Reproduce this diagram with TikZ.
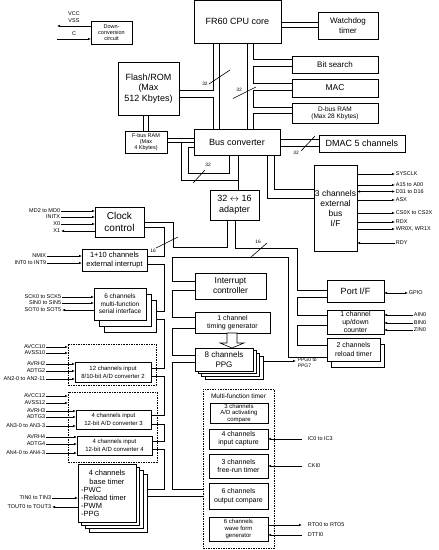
\documentclass[tikz,border=0pt]{standalone}
\usepackage{fontspec}
\setmainfont{Liberation Sans}
\usetikzlibrary{arrows.meta}
\newcommand\fs[2]{\fontsize{#1}{#2}\selectfont}
\newcommand\bx[7][]{\node[box,minimum width={(#5)-(#3)},minimum height={(#6)-(#4)},#1] (#2) at ({((#3)+(#5))/2},{((#4)+(#6))/2}) {#7};}
\tikzset{
  ln/.style={line width=0.6pt},
  box/.style={draw, line width=0.65pt, fill=white, align=center, inner sep=0pt, outer sep=0pt},
  bl/.style={draw, line width=0.65pt, fill=white},
  dbx/.style={dash pattern=on 1.5pt off 1pt, fill=none},
  sig/.style={font=\fs{5.5}{6}, inner sep=0.6pt},
  tiny/.style={font=\fs{4.8}{5}, inner sep=0pt},
  ar/.style={-{Latex[length=3pt,width=2.4pt]}},
  al/.style={{Latex[length=3pt,width=2.4pt]}-},
  ab/.style={{Latex[length=3pt,width=2.4pt]}-{Latex[length=3pt,width=2.4pt]}},
}
\begin{document}
\begin{tikzpicture}[x=1pt,y=-1pt]
\useasboundingbox[fill=white] (0,0) rectangle (439,550);
% ---------- boxes ----------
\bx[font=\fs{5.5}{6.3}]{down}{91}{21}{132}{44}{Down-\\conversion\\circuit}
\bx[font=\fs{9}{10}]{cpu}{194}{0.5}{281}{43}{FR60 CPU core}
\bx[font=\fs{8}{9.5}]{wdt}{318}{12}{378}{39}{Watchdog\\timer}
\bx[font=\fs{8}{9}]{bits}{292}{56}{378}{73}{Bit search}
\bx[font=\fs{8.5}{9}]{mac}{292}{79}{378}{97}{MAC}
\bx[font=\fs{6.5}{7}]{dram}{292}{103}{378}{123}{D-bus RAM\\(Max 28 Kbytes)}
\bx[font=\fs{9}{10.5}]{flash}{118}{62}{179}{115}{Flash/ROM\\(Max\\512 Kbytes)}
\bx[font=\fs{5.5}{6}]{fram}{125}{131}{167}{153}{F-bus RAM\\(Max\\4 Kbytes)}
\bx[font=\fs{9}{10}]{busc}{194}{129}{280}{155}{Bus converter}
\bx[font=\fs{9}{10}]{dmac}{319}{135}{405}{152}{DMAC 5 channels}
\bx[font=\fs{9}{10.5}]{adapt}{210}{190}{259}{220}{32 $\leftrightarrow$ 16\\adapter}
\bx[font=\fs{8.5}{10}]{ebus}{314}{165}{357}{251}{3 channels\\external\\bus\\I/F}
\bx[font=\fs{10}{11.5}]{clock}{95}{207}{144}{237}{Clock\\control}
\bx[font=\fs{7.5}{8.5}]{extint}{82}{249}{147}{271}{1+10 channels\\external interrupt}
\foreach \k in {2,1} \draw[bl] ({94+5*\k},{288+6*\k}) rectangle ({146+5*\k},{320+6*\k});
\bx[font=\fs{6.5}{7.5}]{sio}{94}{288}{146}{320}{6 channels\\multi-function\\serial interface}
\bx[dbx]{adg1}{68}{344}{156}{385}{}
\bx[font=\fs{6}{8}]{adc2}{75}{362}{151}{382}{12 channels input\\8/10-bit A/D converter 2}
\bx[dbx]{adg2}{68}{392}{157}{462}{}
\bx[font=\fs{6}{8}]{adc3}{76}{410}{151}{429}{4 channels input\\12-bit A/D converter 3}
\bx[font=\fs{6}{8}]{adc4}{77}{436}{152}{455}{4 channels input\\12-bit A/D converter 4}
\foreach \k in {3,2,1} \draw[bl] ({78+3.7*\k},{464+3.4*\k}) rectangle ({136+3.7*\k},{522+3.4*\k});
\bx{btim}{78}{464}{136}{522}{}
\node[font=\fs{7.5}{8.5}, align=center, anchor=north] at (107,467) {4 channels\\base timer};
\node[font=\fs{7.5}{8}, align=left, anchor=north west, inner sep=0pt] at (81,487) {-PWC\\-Reload timer\\-PWM\\-PPG};
\bx[font=\fs{8.5}{10}]{intc}{195}{273}{266}{299}{Interrupt\\controller}
\bx[font=\fs{7}{8.5}]{tgen}{195}{312}{270}{333}{1 channel\\timing generator}
\foreach \k in {3,2,1} \draw[bl] ({195+3.3*\k},{348+2.8*\k}) rectangle ({253+3.3*\k},{371+2.8*\k});
\bx[font=\fs{8}{9.5}]{ppg}{195}{348}{253}{371}{8 channels\\PPG}
\draw[ln, fill=white] (227,333) -- (237,333) -- (237,343) -- (244,343) -- (232,348) -- (220,343) -- (227,343) -- cycle;
\bx[dbx]{mft}{203}{389}{274}{548}{}
\node[font=\fs{6.5}{7}, anchor=north] at (238.5,390.5) {Multi-function timer};
\bx[font=\fs{6}{6.5}]{adact}{210}{403}{268}{423}{3 channels\\A/D activating\\compare}
\bx[font=\fs{7}{8}]{icap}{209}{429}{268}{449}{4 channels\\input capture}
\bx[font=\fs{7}{8.5}]{frt}{209}{454}{268}{478}{3 channels\\free-run timer}
\bx[font=\fs{7}{9}]{ocu}{209}{483}{268}{509}{6 channels\\output compare}
\bx[font=\fs{6}{6.8}]{wfg}{209}{517}{268}{541}{6 channels\\wave form\\generator}
\bx[font=\fs{9}{10}]{port}{327}{280}{384}{302}{Port I/F}
\bx[font=\fs{7}{8}]{udc}{327}{310}{384}{334}{1 channel\\up/down\\counter}
\draw[bl] (331,344) rectangle (384,367);
\bx[font=\fs{7}{8.5}]{rtim}{327}{338}{380}{361}{2 channels\\reload timer}
% ---------- top signals ----------
\node[sig] at (74,14) {VCC};
\node[sig] at (74,21) {VSS};
\draw[ln,al] (57,26) -- (down.west |- 0,26);
\node[sig] at (74,34) {C};
\draw[ln,ar] (57,39) -- (down.west |- 0,39);
\draw[ln] (cpu.east |- 0,22) -- (wdt.west |- 0,22);
\draw[ln] (cpu.east |- 0,27) -- (wdt.west |- 0,27);
% CPU buses
\draw[ln] (213,0 |- cpu.south) |- (flash.east |- 0,90);
\draw[ln] (flash.east |- 0,97) -| (213,0 |- busc.north);
\draw[ln] (219,0 |- cpu.south) -- (219,0 |- busc.north);
\draw[ln] (247,0 |- cpu.south) -- (247,0 |- busc.north);
\draw[ln] (253,0 |- cpu.south) |- (bits.west |- 0,59);
\draw[ln] (bits.west |- 0,66) -| (253,83) -- (mac.west |- 0,83);
\draw[ln] (mac.west |- 0,90) -| (253,107) -- (dram.west |- 0,107);
\draw[ln] (dram.west |- 0,113) -| (253,0 |- busc.north);
\draw[ln] (209,84) -- (230,70); \node[tiny] at (205,84) {32};
\draw[ln] (233,98.5) -- (256,87); \node[tiny] at (239,90) {32};
\draw[ln] (143,0 |- flash.south) -- (143,0 |- fram.north);
\draw[ln] (148,0 |- flash.south) -- (148,0 |- fram.north);
\draw[ln] (fram.east |- 0,138) -- (busc.west |- 0,138);
\draw[ln] (fram.east |- 0,142) -- (busc.west |- 0,142);
\draw[ln] (busc.west |- 0,147) -| (188,173) -| (229,0 |- busc.south);
\draw[ln] (181,142) |- (238,180);
\draw[ln] (238,0 |- busc.south) -- (238,0 |- adapt.north);
\draw[ln] (193,183) -- (205,170); \node[tiny] at (208,165) {32};
\draw[ln] (busc.east |- 0,139) -- (dmac.west |- 0,139);
\draw[ln] (busc.east |- 0,146) -- (dmac.west |- 0,146);
\draw[ln] (301,151) -- (315,136); \node[tiny] at (296,153) {32};
\draw[ln] (274,0 |- busc.south) |- (ebus.west |- 0,189);
\draw[ln] (267,0 |- busc.south) |- (ebus.west |- 0,198);
% external bus signals
\draw[ln,ar] (ebus.east |- 0,174) -- (395,174) node[sig,right] {SYSCLK};
\draw[ln,ar] (ebus.east |- 0,185) -- (395,185) node[sig,right] {A15 to A00};
\draw[ln,ab] (ebus.east |- 0,191.5) -- (395,191.5) node[sig,right] {D31 to D16};
\draw[ln,ar] (ebus.east |- 0,200) -- (395,200) node[sig,right] {ASX};
\draw[ln,ar] (ebus.east |- 0,213) -- (395,213) node[sig,right] {CS0X to CS2X};
\draw[ln,ar] (ebus.east |- 0,222) -- (395,222) node[sig,right] {RDX};
\draw[ln,ar] (ebus.east |- 0,229) -- (395,229) node[sig,right] {WR0X, WR1X};
\draw[ln,al] (ebus.east |- 0,243) -- (395,243) node[sig,right] {RDY};
% clock
\draw[ln,ar] (61,211) node[sig,left] {MD2 to MD0} -- (clock.west |- 0,211);
\draw[ln,ar] (61,217) node[sig,left] {INITX} -- (clock.west |- 0,217);
\draw[ln,ar] (61,224) node[sig,left] {X0} -- (clock.west |- 0,224);
\draw[ln,al] (61,231) node[sig,left] {X1} -- (clock.west |- 0,231);
\draw[ln,ar] (47,256) node[sig,left] {NMIX} -- (extint.west |- 0,256);
\draw[ln,ar] (47,263) node[sig,left] {INT0 to INT9} -- (extint.west |- 0,263);
\draw[ln,ar] (62,297) node[sig,left] {SCK0 to SCK5} -- (sio.west |- 0,297);
\draw[ln,ar] (62,303) node[sig,left] {SIN0 to SIN5} -- (sio.west |- 0,303);
\draw[ln,al] (62,310) node[sig,left] {SOT0 to SOT5} -- (sio.west |- 0,310);
\draw[ln,ar] (46,347) node[sig,left] {AVCC10} -- (adg1.west |- 0,347);
\draw[ln,ar] (46,353) node[sig,left] {AVSS10} -- (adg1.west |- 0,353);
\draw[ln,ar] (46,364) node[sig,left] {AVRH2} -- (adc2.west |- 0,364);
\draw[ln,ar] (46,371) node[sig,left] {ADTG2} -- (adc2.west |- 0,371);
\draw[ln,ar] (46,379) node[sig,left] {AN2-0 to AN2-11} -- (adc2.west |- 0,379);
\draw[ln,ar] (46,396) node[sig,left] {AVCC12} -- (adg2.west |- 0,396);
\draw[ln,ar] (46,403) node[sig,left] {AVSS12} -- (adg2.west |- 0,403);
\draw[ln,ar] (46,411) node[sig,left] {AVRH3} -- (adc3.west |- 0,411);
\draw[ln,ar] (46,417) node[sig,left] {ADTG3} -- (adc3.west |- 0,417);
\draw[ln,ar] (46,426) node[sig,left] {AN3-0 to AN3-3} -- (adc3.west |- 0,426);
\draw[ln,ar] (46,437) node[sig,left] {AVRH4} -- (adc4.west |- 0,437);
\draw[ln,ar] (46,444) node[sig,left] {ADTG4} -- (adc4.west |- 0,444);
\draw[ln,ar] (46,453) node[sig,left] {AN4-0 to AN4-3} -- (adc4.west |- 0,453);
\draw[ln,ar] (52,498) node[sig,left] {TIN0 to TIN3} -- (btim.west |- 0,498);
\draw[ln,al] (52,507) node[sig,left] {TOUT0 to TOUT3} -- (btim.west |- 0,507);
% 16-bit buses
\draw[ln] (227,0 |- adapt.south) |- (173,247) |- (clock.east |- 0,222);
\draw[ln] (clock.east |- 0,227) -| (164,256) -- (extint.east |- 0,256);
\draw[ln] (extint.east |- 0,264) -| (164,311) -- (156,311);
\draw[ln] (156,319) -| (164,368) -- (adc2.east |- 0,368);
\draw[ln] (adc2.east |- 0,376) -| (164,415) -- (adc3.east |- 0,415);
\draw[ln] (adc3.east |- 0,424) -| (164,441) -- (adc4.east |- 0,441);
\draw[ln] (adc4.east |- 0,449) -| (164,489) -- (147,489);
\draw[ln] (147,496) -- (mft.west |- 0,496);
\draw[ln] (156,248) -- (178,237); \node[tiny] at (153,251) {16};
\draw[ln] (rtim.west |- 0,357) -| (288,257) -| (172.5,281) -- (intc.west |- 0,281);
\draw[ln] (intc.west |- 0,290) -| (172.5,317) -- (tgen.west |- 0,317);
\draw[ln] (tgen.west |- 0,328) -| (172.5,355) -- (ppg.west |- 0,355);
\draw[ln] (ppg.west |- 0,362) -| (172.5,489) -- (mft.west |- 0,489);
\draw[ln] (235,0 |- adapt.south) |- (297,248) |- (port.west |- 0,290);
\draw[ln] (port.west |- 0,297) -| (297,315) -- (udc.west |- 0,315);
\draw[ln] (udc.west |- 0,325) -| (297,345) -- (rtim.west |- 0,345);
\draw[ln] (250,258) -- (267,243); \node[tiny] at (258,242) {16};
% right signals
\draw[ln,ab] (port.east |- 0,293) -- (408,293) node[sig,right] {GPIO};
\draw[ln,al] (udc.east |- 0,315) -- (413,315) node[sig,right] {AIN0};
\draw[ln,al] (udc.east |- 0,323) -- (413,323) node[sig,right] {BIN0};
\draw[ln,al] (udc.east |- 0,330) -- (413,330) node[sig,right] {ZIN0};
\draw[ln,ar] (263,361) -- (296,361) node[font=\fs{5}{6}, align=left, anchor=north west, inner sep=0.5pt] at (297,357) {PPG0 to\\PPG7};
\draw[ln,al] (icap.east |- 0,439) -- (302,439) node[sig,right,xshift=5pt] {IC0 to IC3};
\draw[ln,al] (frt.east |- 0,466) -- (302,466) node[sig,right,xshift=5pt] {CKI0};
\draw[ln,ar] (wfg.east |- 0,525) -- (302,525) node[sig,right,xshift=5pt] {RTO0 to RTO5};
\draw[ln,al] (wfg.east |- 0,535) -- (302,535) node[sig,right,xshift=5pt] {DTTI0};
\end{tikzpicture}
\end{document}
